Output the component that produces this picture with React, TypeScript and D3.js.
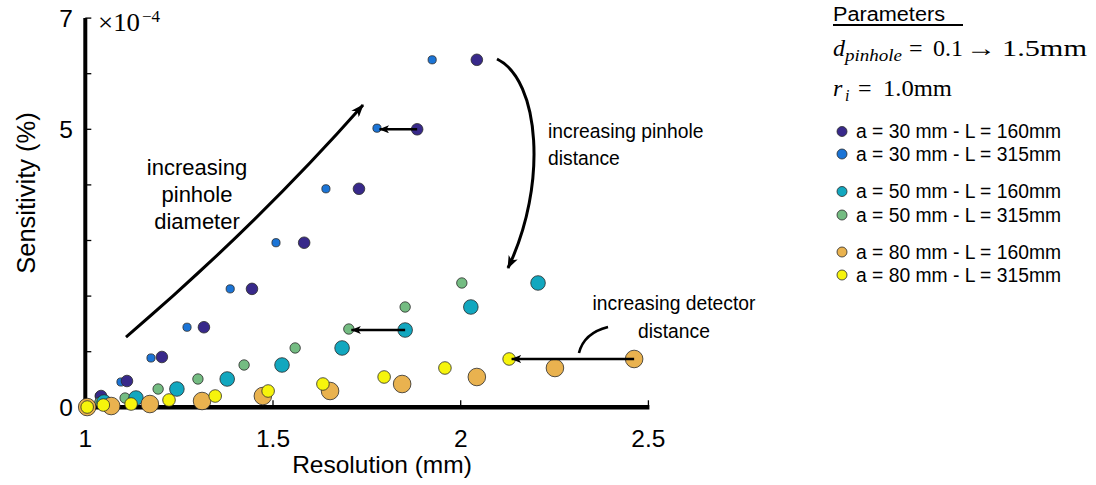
import React from 'react';
import * as d3 from 'd3';

// ---------- data ----------
const seriesLabels = [
  'a = 30 mm - L = 160mm',
  'a = 30 mm - L = 315mm',
  'a = 50 mm - L = 160mm',
  'a = 50 mm - L = 315mm',
  'a = 80 mm - L = 160mm',
  'a = 80 mm - L = 315mm',
];
const seriesColors = ['#38298a', '#1b74d6', '#12a7bf', '#74bc82', '#e9b24f', '#f6f40c'];
const markerRadius = [5.8, 4.1, 7.3, 5.2, 8.8, 6.3];

// resolution (mm)
const resA30L160 = [2.043, 1.884, 1.729, 1.583, 1.444, 1.316, 1.204, 1.111, 1.042];
const resA30L315 = [1.924, 1.777, 1.641, 1.508, 1.386, 1.271, 1.175, 1.095, 1.037];
const resA50L160 = [2.206, 2.027, 1.852, 1.684, 1.524, 1.378, 1.244, 1.135, 1.050];
const resA50L315 = [2.003, 1.852, 1.702, 1.559, 1.423, 1.300, 1.194, 1.106, 1.039];
const resA80L160 = [2.462, 2.251, 2.043, 1.844, 1.652, 1.473, 1.311, 1.172, 1.069, 1.005];
const resA80L315 = [2.129, 1.958, 1.796, 1.633, 1.487, 1.346, 1.223, 1.122, 1.048, 1.005];

// sensitivity (% , in units of 1e-4)
const sensA30L160 = [6.25, 5.0, 3.93, 2.96, 2.13, 1.44, 0.905, 0.473, 0.203];
const sensA30L315 = [6.25, 5.02, 3.93, 2.96, 2.13, 1.44, 0.887, 0.455, 0.203];
const sensA50L160 = [2.236, 1.804, 1.39, 1.067, 0.761, 0.509, 0.329, 0.167, 0.095];
const sensA50L315 = [2.236, 1.804, 1.408, 1.067, 0.761, 0.509, 0.329, 0.167, 0.095];
const sensA80L160 = [0.869, 0.707, 0.545, 0.419, 0.293, 0.203, 0.113, 0.059, 0.023, 0.005];
const sensA80L315 = [0.869, 0.707, 0.545, 0.419, 0.293, 0.203, 0.131, 0.059, 0.041, 0.005];

const sensUnit = 1e-4;
const resByS = [resA30L160, resA30L315, resA50L160, resA50L315, resA80L160, resA80L315];
const sensByS = [sensA30L160, sensA30L315, sensA50L160, sensA50L315, sensA80L160, sensA80L315];
const drawOrder = [1, 0, 3, 2, 4, 5];

const xTicks = [1, 1.5, 2, 2.5];
const xTickLabels = ['1', '1.5', '2', '2.5'];
const yTicks = [0, 1, 2, 3, 4, 5, 6, 7];
const yLabelled = [0, 5, 7];

// horizontal arrows: [fromSeries, toSeries, pointIndex]
const shiftArrows = [
  [0, 1, 1],
  [2, 3, 2],
  [4, 5, 0],
];

// curved annotation arrows (data coordinates, sensitivity in 1e-4)
const diameterArrow = [[1.1084, 1.264], [1.452, 3.243], [1.7398, 5.437]];
const distanceArrow = [[2.0967, 6.264], [2.2112, 5.887], [2.2325, 3.998], [2.1259, 2.505]];
const detectorCurve = [[2.3151, 0.977], [2.3284, 1.336], [2.3924, 1.444]];

const legendRowY = [131.5, 154, 191.5, 215, 252, 275];

export default function App() {
  const x = d3.scaleLinear().domain([1, 2.5]).range([85.3, 648.4]);
  const y = d3.scaleLinear().domain([0, 7 * sensUnit]).range([407.3, 18.1]);
  const ys = (v: number) => y(v * sensUnit);

  const sans = "'Liberation Sans', Arial, Helvetica, sans-serif";
  const serif = "'Liberation Serif', 'Times New Roman', serif";

  const q = diameterArrow.map(([a, b]) => [x(a), ys(b)]);
  const diamPath = `M${q[0][0]},${q[0][1]} Q${q[1][0]},${q[1][1]} ${q[2][0]},${q[2][1]}`;
  const c = distanceArrow.map(([a, b]) => [x(a), ys(b)]);
  const distPath = `M${c[0][0]},${c[0][1]} C${c[1][0]},${c[1][1]} ${c[2][0]},${c[2][1]} ${c[3][0]},${c[3][1]}`;
  const dd = detectorCurve.map(([a, b]) => [x(a), ys(b)]);
  const detPath = `M${dd[0][0]},${dd[0][1]} Q${dd[1][0]},${dd[1][1]} ${dd[2][0]},${dd[2][1]}`;

  return (
    <svg width={1096} height={485} style={{ position: 'absolute', left: 0, top: 0, background: '#fff' }}>
      <defs>
        <marker id="headBig" viewBox="0 0 13 10" refX={12} refY={5} markerWidth={13} markerHeight={10}
          markerUnits="userSpaceOnUse" orient="auto">
          <path d="M0,0 L13,5 L0,10 L3.5,5 Z" fill="#000" />
        </marker>
        <marker id="headSmall" viewBox="0 0 10 8" refX={9.5} refY={4} markerWidth={10} markerHeight={8}
          markerUnits="userSpaceOnUse" orient="auto">
          <path d="M0,0 L10,4 L0,8 L2.5,4 Z" fill="#000" />
        </marker>
      </defs>

      {/* axes */}
      <line x1={x(1)} x2={x(1)} y1={ys(0) + 2} y2={ys(7)} stroke="#000" strokeWidth={4} />
      <line x1={x(1) - 2} x2={x(2.5) + 1} y1={ys(0)} y2={ys(0)} stroke="#000" strokeWidth={4.5} />
      {yTicks.map((t) => (
        <line key={'yt' + t} x1={x(1)} x2={x(1) + 6} y1={ys(t)} y2={ys(t)} stroke="#000" strokeWidth={1.3} />
      ))}
      {xTicks.map((t) => (
        <line key={'xt' + t} x1={x(t)} x2={x(t)} y1={ys(0)} y2={ys(0) - 7} stroke="#000" strokeWidth={1.3} />
      ))}
      {yLabelled.map((t) => (
        <text key={'yl' + t} x={73} y={ys(t)} dy="0.37em" textAnchor="end" fontFamily={sans} fontSize={24.5} fill="#000">
          {t}
        </text>
      ))}
      {xTicks.map((t, i) => (
        <text key={'xl' + t} x={x(t)} y={447} textAnchor="middle" fontFamily={sans} fontSize={24.5} fill="#000">
          {xTickLabels[i]}
        </text>
      ))}
      <text x={98} y={31} fontFamily={serif} fontSize={26} fill="#000" textLength={42} lengthAdjust="spacingAndGlyphs">×10</text>
      <text x={142} y={22} fontFamily={serif} fontSize={17} fill="#000">−4</text>

      <text x={382} y={473} textAnchor="middle" fontFamily={sans} fontSize={24.5} fill="#000">Resolution (mm)</text>
      <text transform="translate(35,193) rotate(-90)" textAnchor="middle" fontFamily={sans} fontSize={25.5} fill="#000">
        Sensitivity (%)
      </text>

      {/* points */}
      {drawOrder.map((s) => (
        <g key={'s' + s}>
          {resByS[s].map((r, i) => (
            <circle key={i} cx={x(r)} cy={ys(sensByS[s][i])} r={markerRadius[s]} fill={seriesColors[s]}
              stroke="#2a2a2a" strokeWidth={0.8} />
          ))}
        </g>
      ))}

      {/* horizontal shift arrows */}
      {shiftArrows.map(([a, b, i], k) => {
        const x0 = x(resByS[a][i]);
        const x1 = x(resByS[b][i]) + 2.5;
        const yy = ys(sensByS[a][i]);
        return (
          <line key={'ha' + k} x1={x0} x2={x1} y1={yy} y2={yy} stroke="#000" strokeWidth={2.4}
            markerEnd="url(#headSmall)" />
        );
      })}

      {/* curved annotations */}
      <path d={diamPath} fill="none" stroke="#000" strokeWidth={3} markerEnd="url(#headBig)" />
      <path d={distPath} fill="none" stroke="#000" strokeWidth={3} markerEnd="url(#headBig)" />
      <path d={detPath} fill="none" stroke="#000" strokeWidth={2.6} />

      <g fontFamily={sans} fontSize={22} fill="#000" textAnchor="middle">
        <text x={197} y={175}>increasing</text>
        <text x={197} y={202}>pinhole</text>
        <text x={197} y={229}>diameter</text>
      </g>
      <g fontFamily={sans} fontSize={19.3} fill="#000">
        <text x={548} y={138}>increasing pinhole</text>
        <text x={548} y={165}>distance</text>
        <text x={674} y={310} textAnchor="middle">increasing detector</text>
        <text x={674} y={337.5} textAnchor="middle">distance</text>
      </g>

      {/* legend / parameters */}
      <text x={833} y={20.5} fontFamily={sans} fontSize={20} fill="#000" textLength={112} lengthAdjust="spacingAndGlyphs">
        Parameters
      </text>
      <line x1={833} x2={963} y1={25} y2={25} stroke="#000" strokeWidth={1.8} />

      <g fontFamily={serif} fill="#000">
        <text x={833} y={56} fontSize={24} fontStyle="italic">d</text>
        <text x={845} y={61} fontSize={16} fontStyle="italic" textLength={57} lengthAdjust="spacingAndGlyphs">pinhole</text>
        <text x={909} y={56} fontSize={24}>=</text>
        <text x={933} y={56} fontSize={24}>0.1</text>
        <text x={966} y={56} fontSize={24} textLength={30} lengthAdjust="spacingAndGlyphs">→</text>
        <text x={1002} y={56} fontSize={24} textLength={85} lengthAdjust="spacingAndGlyphs">1.5mm</text>

        <text x={833} y={96} fontSize={24} fontStyle="italic">r</text>
        <text x={845} y={101} fontSize={16} fontStyle="italic">i</text>
        <text x={858} y={96} fontSize={24}>=</text>
        <text x={883} y={96} fontSize={24} textLength={69} lengthAdjust="spacingAndGlyphs">1.0mm</text>
      </g>

      {seriesLabels.map((lab, s) => (
        <g key={'lg' + s}>
          <circle cx={842} cy={legendRowY[s]} r={5} fill={seriesColors[s]} stroke="#2a2a2a" strokeWidth={0.8} />
          <text x={856} y={legendRowY[s] + 6.8} fontFamily={sans} fontSize={19.3} fill="#000">{lab}</text>
        </g>
      ))}
    </svg>
  );
}
